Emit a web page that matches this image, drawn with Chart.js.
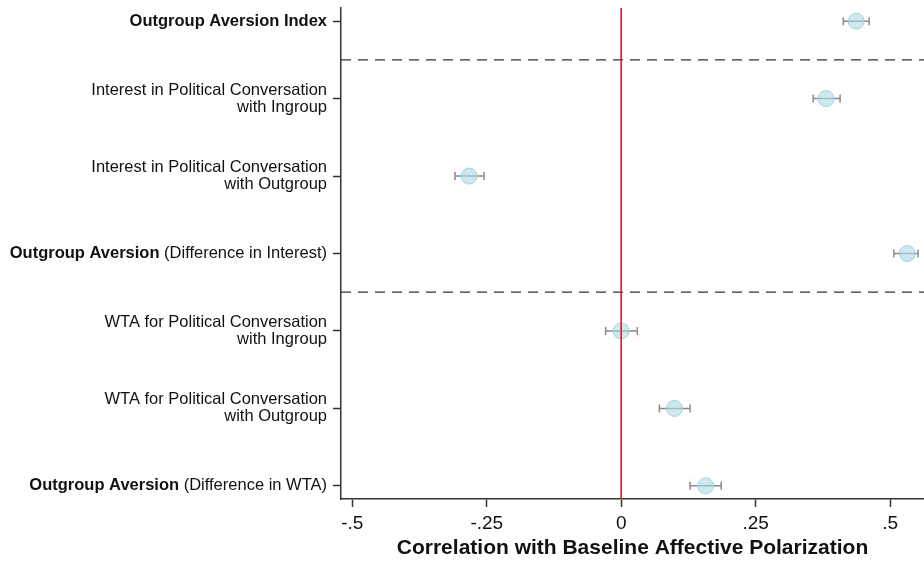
<!DOCTYPE html>
<html>
<head>
<meta charset="utf-8">
<script src="https://cdn.jsdelivr.net/npm/chart.js@4.4.1/dist/chart.umd.min.js"></script>
<style>
  body { margin: 0; background: white; }
  #wrap { width: 924px; height: 562px; }
</style>
</head>
<body>
<div id="wrap"><canvas id="corrChart" width="924" height="562"></canvas></div>
<script>
// rows from top to bottom
const categories = [
  ["Outgroup Aversion Index"],
  ["Interest in Political Conversation", "with Ingroup"],
  ["Interest in Political Conversation", "with Outgroup"],
  ["Outgroup Aversion (Difference in Interest)"],
  ["WTA for Political Conversation", "with Ingroup"],
  ["WTA for Political Conversation", "with Outgroup"],
  ["Outgroup Aversion (Difference in WTA)"]
];
const estimates = [0.437, 0.381, -0.283, 0.532, 0.0, 0.099, 0.157];
const ciLow = [0.413, 0.357, -0.309, 0.507, -0.029, 0.071, 0.128];
const ciHigh = [0.461, 0.407, -0.255, 0.552, 0.030, 0.128, 0.186];
const xTicks = [-0.5, -0.25, 0, 0.25, 0.5];
const dividers = [1.5, 4.5];

const xMin = -0.521, xMax = 0.563;
const yMin = 0.83, yMax = 7.17;

const points = estimates.map((v, i) => ({ x: v, y: i + 1 }));

function tickText(v) {
  if (v === 0) return "0";
  return String(v).replace("0.", ".");
}

// grey error bars with caps
const errorBars = {
  id: "errorBars",
  beforeDatasetsDraw(chart) {
    const ctx = chart.ctx;
    const xs = chart.scales.x, ys = chart.scales.y;
    ctx.save();
    ctx.strokeStyle = "#8a8a8a";
    ctx.lineWidth = 1.5;
    for (let i = 0; i < estimates.length; i++) {
      const y = ys.getPixelForValue(i + 1);
      const x1 = xs.getPixelForValue(ciLow[i]);
      const x2 = xs.getPixelForValue(ciHigh[i]);
      ctx.beginPath();
      ctx.moveTo(x1, y); ctx.lineTo(x2, y);
      ctx.moveTo(x1, y - 4); ctx.lineTo(x1, y + 4);
      ctx.moveTo(x2, y - 4); ctx.lineTo(x2, y + 4);
      ctx.stroke();
    }
    ctx.restore();
  }
};

// row labels, "Outgroup Aversion" part in bold
const rowLabels = {
  id: "rowLabels",
  afterDraw(chart) {
    const ctx = chart.ctx;
    const ys = chart.scales.y;
    const right = chart.chartArea.left - 14;
    const lh = 17;
    const normal = "16.5px 'Liberation Sans', Arial, sans-serif";
    const bold = "bold 16.5px 'Liberation Sans', Arial, sans-serif";
    const key = "Outgroup Aversion";
    ctx.save();
    ctx.fillStyle = "#111";
    ctx.textBaseline = "middle";
    ctx.textAlign = "right";
    categories.forEach((lines, i) => {
      const yc = ys.getPixelForValue(i + 1);
      const y0 = yc - (lines.length - 1) * lh / 2;
      lines.forEach((line, j) => {
        const y = y0 + j * lh;
        if (line.startsWith(key) && line.indexOf("(") > 0) {
          const rest = line.slice(key.length);
          ctx.font = normal;
          ctx.fillText(rest, right, y);
          const w = ctx.measureText(rest).width;
          ctx.font = bold;
          ctx.fillText(key, right - w, y);
        } else if (line.startsWith(key)) {
          ctx.font = bold;
          ctx.fillText(line, right, y);
        } else {
          ctx.font = normal;
          ctx.fillText(line, right, y);
        }
      });
    });
    ctx.restore();
  }
};

const datasets = [
  {
    type: "line",
    data: [{ x: 0, y: yMin }, { x: 0, y: yMax }],
    borderColor: "rgb(210, 35, 35)",
    borderWidth: 1,
    pointRadius: 0,
    order: 0
  },
  {
    type: "scatter",
    data: points,
    backgroundColor: "rgba(173, 216, 230, 0.6)",
    borderColor: "rgba(160, 205, 222, 0.9)",
    borderWidth: 1,
    pointRadius: 8,
    order: 1
  }
];
dividers.forEach((d) => {
  datasets.push({
    type: "line",
    data: [{ x: xMin, y: d }, { x: xMax, y: d }],
    borderColor: "#333",
    borderWidth: 1.2,
    borderDash: [10, 7],
    pointRadius: 0,
    order: 2
  });
});

const config = {
  type: "scatter",
  data: { datasets },
  options: {
    responsive: false,
    animation: false,
    layout: { autoPadding: false, padding: { top: 8, right: 0, bottom: 0, left: 0 } },
    plugins: { legend: { display: false }, tooltip: { enabled: false } },
    scales: {
      x: {
        type: "linear",
        min: xMin,
        max: xMax,
        afterBuildTicks: (s) => { s.ticks = xTicks.map((v) => ({ value: v })); },
        afterFit: (s) => { s.height = 63; s.paddingLeft = 0; s.paddingRight = 0; },
        border: { display: true, color: "#333", width: 1.5 },
        grid: { display: true, drawOnChartArea: false, tickLength: 8, color: "#333", tickWidth: 1.5 },
        ticks: {
          padding: 5,
          color: "#111",
          font: { family: "'Liberation Sans', Arial, sans-serif", size: 19 },
          callback: (v) => tickText(v),
          maxRotation: 0
        },
        title: {
          display: true,
          text: "Correlation with Baseline Affective Polarization",
          color: "#111",
          font: { family: "'Liberation Sans', Arial, sans-serif", size: 21, weight: "bold" },
          padding: { top: 0, bottom: 1 }
        }
      },
      y: {
        type: "linear",
        reverse: true,
        min: yMin,
        max: yMax,
        afterBuildTicks: (s) => { s.ticks = categories.map((c, i) => ({ value: i + 1 })); },
        afterFit: (s) => { s.width = 341; s.paddingTop = 0; s.paddingBottom = 0; },
        border: { display: true, color: "#333", width: 1.5 },
        grid: { display: true, drawOnChartArea: false, tickLength: 8, color: "#333", tickWidth: 1.5 },
        ticks: { callback: () => "" }
      }
    }
  },
  plugins: [errorBars, rowLabels]
};

new Chart(document.getElementById("corrChart"), config);
</script>
</body>
</html>
